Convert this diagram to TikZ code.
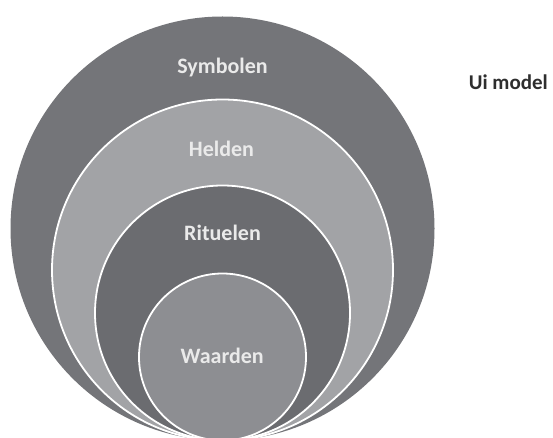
\documentclass[tikz,border=0pt]{standalone}
\usepackage{fontspec}
\setmainfont{Carlito}
\definecolor{cSym}{HTML}{747579}
\definecolor{cHel}{HTML}{A2A3A6}
\definecolor{cRit}{HTML}{6B6C70}
\definecolor{cWaa}{HTML}{8D8E92}
\definecolor{cTxt}{HTML}{EAEAEA}
\definecolor{cDark}{HTML}{2E2E2E}
\begin{document}
\begin{tikzpicture}[x=1pt,y=-1pt,
  ring/.style={circle, inner sep=0pt, outer sep=0pt, draw=white, line width=1.8pt},
  lbl/.style={anchor=base, inner sep=0pt, text=cTxt, font=\bfseries\fontsize{22}{25}\selectfont},
  title/.style={anchor=base, inner sep=0pt, text=cDark, font=\bfseries\fontsize{21}{24}\selectfont}]
\useasboundingbox (0,0) rectangle (553,438);
\fill[white] (0,0) rectangle (553,438);
\node[circle, inner sep=0pt, fill=cSym, minimum size=424pt] (sym) at (222.5,228.5) {};
\node[ring, fill=cHel, minimum size=341pt] (hel) at (222.5,270) {};
\node[ring, fill=cRit, minimum size=255pt] (rit) at (222.5,313) {};
\node[ring, fill=cWaa, minimum size=167pt] (waa) at (222.5,357) {};
\node[lbl] (tsym) at (222.5,74) {Symbolen};
\node[lbl] (thel) at (221.5,157) {Helden};
\node[lbl] (trit) at (222.5,240) {Rituelen};
\node[lbl] (twaa) at (222.2,363) {Waarden};
\node[title] (tui) at (508.3,90) {Ui model};
\end{tikzpicture}
\end{document}
